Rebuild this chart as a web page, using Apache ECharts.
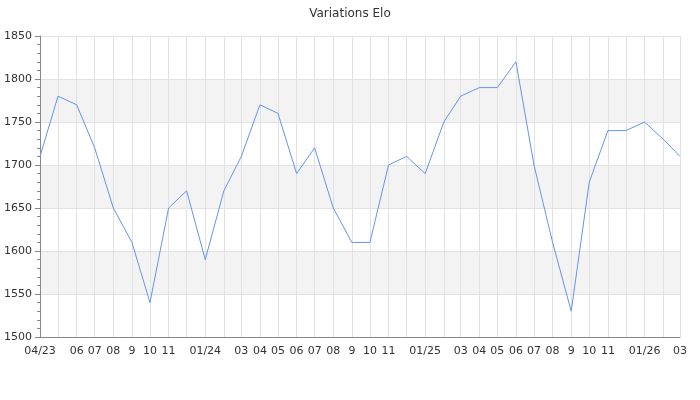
<!DOCTYPE html>
<html>
<head>
<meta charset="utf-8">
<script src="https://cdn.jsdelivr.net/npm/echarts@6/dist/echarts.min.js"></script>
<style>html,body{margin:0;padding:0;background:#fff;}#c{width:700px;height:400px;}</style>
</head>
<body>
<div id="c"></div>
<script>
// Monthly points (first day of each month)
var months = ['2023-04','2023-05','2023-06','2023-07','2023-08','2023-09','2023-10','2023-11','2023-12',
  '2024-01','2024-02','2024-03','2024-04','2024-05','2024-06','2024-07','2024-08','2024-09','2024-10','2024-11','2024-12',
  '2025-01','2025-02','2025-03','2025-04','2025-05','2025-06','2025-07','2025-08','2025-09','2025-10','2025-11','2025-12',
  '2026-01','2026-02','2026-03'];
var elo = [1710,1780,1770,1720,1650,1610,1540,1650,1670,
  1590,1670,1710,1770,1760,1690,1720,1650,1610,1610,1700,1710,
  1690,1750,1780,1790,1790,1820,1700,1610,1530,1680,1740,1740,
  1750,1730,1710];
var monthLabels = ['04/23','','06','07','08','9','10','11','',
  '01/24','','03','04','05','06','07','08','9','10','11','',
  '01/25','','03','04','05','06','07','08','9','10','11','',
  '01/26','','03'];
var yTicks = [1500,1550,1600,1650,1700,1750,1800,1850];

function pad(n){return n<10?'0'+n:''+n;}
function fmt(d){return d.getFullYear()+'-'+pad(d.getMonth()+1)+'-'+pad(d.getDate());}

// daily category axis so month gridlines keep their true spacing
var days = [];
var start = new Date(2023,3,1,12), end = new Date(2026,2,1,12);
for (var d = new Date(start); d <= end; d.setDate(d.getDate()+1)) days.push(fmt(d));
var labelOf = {};
months.forEach(function(m,i){ labelOf[m+'-01'] = monthLabels[i]; });
function isMonthStart(idx, val){ return val.slice(8) === '01'; }

var chart = echarts.init(document.getElementById('c'), null, {renderer:'canvas'});
chart.setOption({
  animation: false,
  textStyle: {fontFamily: 'DejaVu Sans'},
  title: {
    text: 'Variations Elo', left: 'center', top: 3,
    textStyle: {fontSize: 12, fontWeight: 'normal', color: '#333', fontFamily: 'DejaVu Sans'}
  },
  grid: {left: 40, right: 20, top: 36, bottom: 63},
  xAxis: {
    type: 'category',
    data: days,
    boundaryGap: false,
    axisLine: {lineStyle: {color: '#888'}},
    axisTick: {show: false},
    axisLabel: {
      interval: isMonthStart,
      formatter: function(v){ return labelOf[v] || ''; },
      fontSize: 11, color: '#333', margin: 9, fontFamily: 'DejaVu Sans'
    },
    splitLine: {show: true, interval: isMonthStart, lineStyle: {color: '#e2e2e2', width: 1}}
  },
  yAxis: {
    type: 'value',
    min: yTicks[0], max: yTicks[yTicks.length-1], interval: 50,
    axisLine: {show: true, lineStyle: {color: '#888'}},
    axisTick: {show: true, length: 5, lineStyle: {color: '#888'}},
    minorTick: {show: true, splitNumber: 5, length: 3, lineStyle: {color: '#888'}},
    axisLabel: {fontSize: 11, color: '#333', margin: 8, fontFamily: 'DejaVu Sans',
      formatter: function(v){ return String(v); }},
    splitLine: {show: true, lineStyle: {color: '#e2e2e2'}},
    splitArea: {show: true, areaStyle: {color: ['#ffffff', '#f3f3f3']}}
  },
  series: [{
    type: 'line',
    data: months.map(function(m,i){ return [m+'-01', elo[i]]; }),
    showSymbol: false,
    symbol: 'none',
    lineStyle: {color: '#6495ed', width: 1},
    itemStyle: {color: '#6495ed'}
  }]
});
</script>
</body>
</html>
